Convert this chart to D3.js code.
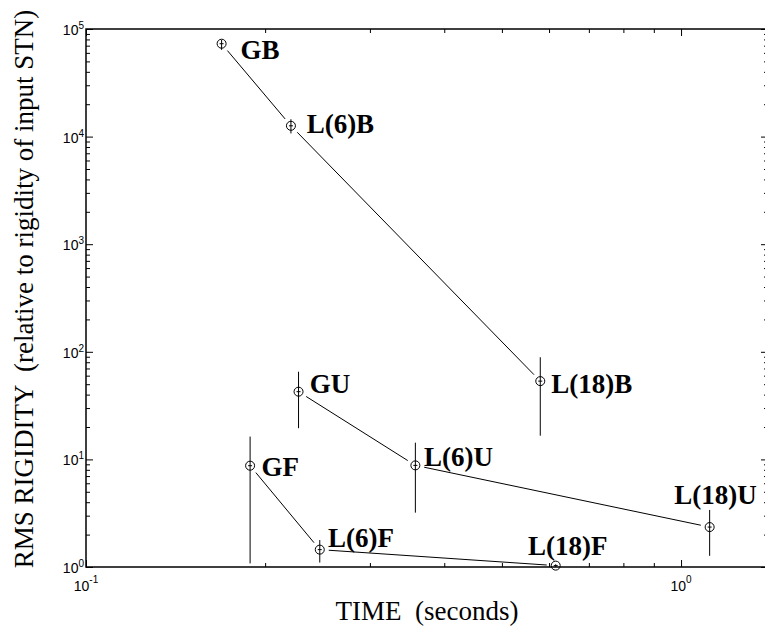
<!DOCTYPE html>
<html>
<head>
<meta charset="utf-8">
<script src="https://cdn.jsdelivr.net/npm/d3@7"></script>
<style>
	body { margin: 0; background: #fff; }
	.axis path, .axis line { stroke: #000; }
	.tick-label { font-family: "Liberation Sans", Arial, sans-serif; font-size: 14px; }
	.point-label { font-family: "Liberation Serif", "Times New Roman", serif; font-size: 27px; font-weight: bold; }
	.axis-title { font-family: "Liberation Serif", "Times New Roman", serif; font-size: 27px; }
</style>
</head>
<body>
<div id="chart"></div>
<script>
// three runs: B, U and F, each with the G, L(6), L(18) points
var seriesNames = ["B", "U", "F"];
var pointNames = [["GB", "L(6)B", "L(18)B"], ["GU", "L(6)U", "L(18)U"], ["GF", "L(6)F", "L(18)F"]];
var timeValues = [[0.169, 0.221, 0.580], [0.2276, 0.3577, 1.117], [0.1887, 0.2471, 0.6157]];
var rigidityValues = [[73000, 12600, 53.4], [42.6, 8.8, 2.35], [8.74, 1.45, 1.03]];
var errLow = [[64000, 10700, 16.6], [19.5, 3.2, 1.27], [1.08, 1.1, 1.0]];
var errHigh = [[79000, 14500, 89], [65.3, 14.3, 3.39], [16.3, 1.78, 1.06]];

var xTickValues = [0.1, 1];
var xTickExps = ["-1", "0"];
var yTickValues = [1, 10, 100, 1000, 10000, 100000];
var yTickExps = ["0", "1", "2", "3", "4", "5"];

// label offsets from the marker, in pixels
var labelDx = [[19, 15.7, 11], [11.3, 8.6, -35.3], [11.4, 8.3, -27.7]];
var labelDy = [[15.5, 7, 12], [1.6, 0.4, -22.7], [10.3, -3, -10.7]];

var w = 765, h = 630;
var margin = {left: 86, top: 29, right: -3, bottom: 63};

var svg = d3.select("#chart").append("svg")
	.attr("width", w)
	.attr("height", h);

var x = d3.scaleLog().domain([0.1, 1.4]).range([margin.left, w - margin.right]);
var y = d3.scaleLog().domain([1, 100000]).range([h - margin.bottom, margin.top]);

function minorTicks(lo, hi) {
	var out = [];
	for (var e = Math.floor(Math.log10(lo)); e <= Math.ceil(Math.log10(hi)); e++) {
		for (var k = 2; k <= 9; k++) {
			var v = k * Math.pow(10, e);
			if (v > lo && v < hi) out.push(v);
		}
	}
	return out;
}

var xMinor = minorTicks(0.1, 1.4);
var yMinor = minorTicks(1, 100000);

function addAxis(axis, tx, ty) {
	var g = svg.append("g")
		.attr("class", "axis")
		.attr("transform", "translate(" + tx + "," + ty + ")")
		.call(axis);
	g.select(".domain").remove();
	g.selectAll("text").remove();
	g.selectAll("line").attr("stroke-width", 1);
	return g;
}

var x0 = margin.left, x1 = w - margin.right;
var y0 = h - margin.bottom, y1 = margin.top;

// inward ticks on all four sides
addAxis(d3.axisBottom(x).tickValues(xTickValues).tickSize(-7), 0, y0);
addAxis(d3.axisBottom(x).tickValues(xMinor).tickSize(-4), 0, y0);
addAxis(d3.axisTop(x).tickValues(xTickValues).tickSize(-7), 0, y1);
addAxis(d3.axisTop(x).tickValues(xMinor).tickSize(-4), 0, y1);
addAxis(d3.axisLeft(y).tickValues(yTickValues).tickSize(-7), x0, 0);
addAxis(d3.axisLeft(y).tickValues(yMinor).tickSize(-4), x0, 0);
addAxis(d3.axisRight(y).tickValues(yTickValues).tickSize(-7), x1, 0);
addAxis(d3.axisRight(y).tickValues(yMinor).tickSize(-4), x1, 0);

svg.append("rect")
	.attr("x", x0).attr("y", y1)
	.attr("width", x1 - x0).attr("height", y0 - y1)
	.attr("fill", "none")
	.attr("stroke", "#000")
	.attr("stroke-width", 1.5);

// tick labels 10^n
xTickValues.forEach(function(v, i) {
	var t = svg.append("text")
		.attr("class", "tick-label")
		.attr("x", x(v))
		.attr("y", y0 + 24)
		.attr("text-anchor", "middle");
	t.append("tspan").text("10");
	t.append("tspan").attr("dy", -8).attr("font-size", "10px").text(xTickExps[i]);
});

yTickValues.forEach(function(v, i) {
	var t = svg.append("text")
		.attr("class", "tick-label")
		.attr("x", x0 - 2)
		.attr("y", y(v) + 6)
		.attr("text-anchor", "end");
	t.append("tspan").text("10");
	t.append("tspan").attr("dy", -6).attr("font-size", "10px").text(yTickExps[i]);
});

// data
var gap = 9;
var r = 4.5;
var plot = svg.append("g").attr("class", "data");

seriesNames.forEach(function(s, si) {
	var pts = timeValues[si].map(function(t, j) {
		return [x(t), y(rigidityValues[si][j])];
	});

	// connecting segments, pulled back from the markers
	for (var j = 0; j < pts.length - 1; j++) {
		var a = pts[j], b = pts[j + 1];
		var dx = b[0] - a[0], dy = b[1] - a[1];
		var len = Math.sqrt(dx * dx + dy * dy);
		plot.append("line")
			.attr("x1", a[0] + dx / len * gap)
			.attr("y1", a[1] + dy / len * gap)
			.attr("x2", b[0] - dx / len * gap)
			.attr("y2", b[1] - dy / len * gap)
			.attr("stroke", "#000")
			.attr("stroke-width", 1);
	}

	pts.forEach(function(p, j) {
		var t = timeValues[si][j];
		plot.append("line")
			.attr("x1", x(t)).attr("x2", x(t))
			.attr("y1", y(errLow[si][j])).attr("y2", y(errHigh[si][j]))
			.attr("stroke", "#000")
			.attr("stroke-width", 1);
		plot.append("line")
			.attr("x1", p[0] - 2).attr("x2", p[0] + 2)
			.attr("y1", p[1]).attr("y2", p[1])
			.attr("stroke", "#000")
			.attr("stroke-width", 1);
		plot.append("circle")
			.attr("cx", p[0]).attr("cy", p[1]).attr("r", r)
			.attr("fill", "none")
			.attr("stroke", "#000")
			.attr("stroke-width", 1);
		plot.append("text")
			.attr("class", "point-label")
			.attr("x", p[0] + labelDx[si][j])
			.attr("y", p[1] + labelDy[si][j])
			.text(pointNames[si][j]);
	});
});

// axis titles
svg.append("text")
	.attr("class", "axis-title")
	.attr("x", (x0 + x1) / 2)
	.attr("y", 620)
	.attr("text-anchor", "middle")
	.attr("xml:space", "preserve")
	.style("white-space", "pre")
	.text("TIME  (seconds)");

svg.append("text")
	.attr("class", "axis-title")
	.attr("transform", "translate(33,289) rotate(-90)")
	.attr("text-anchor", "middle")
	.style("white-space", "pre")
	.text("RMS RIGIDITY  (relative to rigidity of input STN)");
</script>
</body>
</html>
